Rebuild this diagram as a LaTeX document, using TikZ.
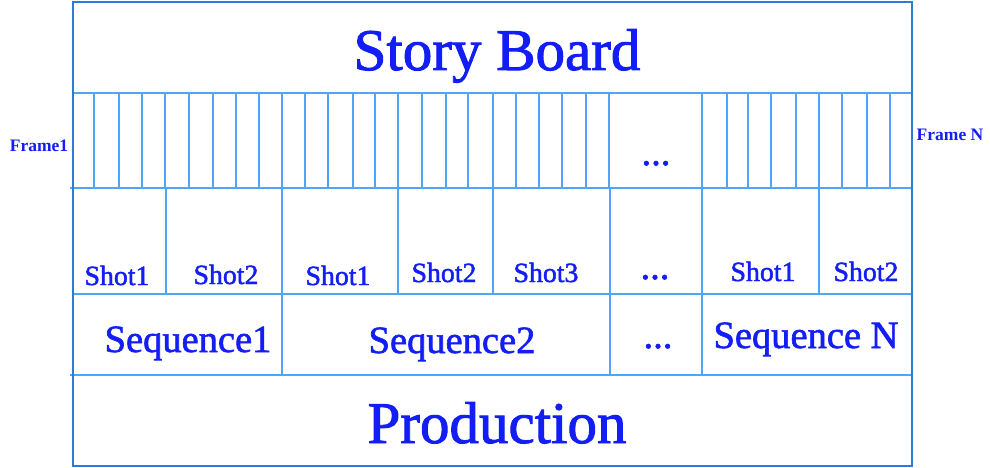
\documentclass[tikz,border=0pt]{standalone}
\usepackage{fontspec}
\setmainfont{Liberation Serif}
\newfontfamily\heavyfont[FakeBold=1.6]{Liberation Serif}
\definecolor{txtblue}{RGB}{18,30,245}
\definecolor{linblue}{RGB}{80,165,250}
\definecolor{brdblue}{RGB}{40,125,215}
\tikzset{
  grid/.style={draw=linblue,line width=1.8pt},
  border/.style={draw=brdblue,line width=2.4pt},
  lbl/.style={text=txtblue,inner sep=0pt,anchor=base},
  big/.style={lbl,font=\heavyfont\fontsize{59}{60}\selectfont},
  mid/.style={lbl,font=\heavyfont\fontsize{38.5}{40}\selectfont},
  small/.style={lbl,font=\heavyfont\fontsize{27.8}{30}\selectfont},
  tiny/.style={lbl,font=\bfseries\fontsize{17.5}{19}\selectfont},
}
\begin{document}
\begin{tikzpicture}[x=1pt,y=-1pt]
\useasboundingbox (0,0) rectangle (990,468);
% horizontal dividers
\draw[grid] (73,93) -- (913,93);
\draw[grid] (70,188) -- (913,188);
\draw[grid] (73,294) -- (913,294);
\draw[grid] (70,375) -- (913,375);
% frame row verticals
\foreach \x in {94,119,142,165,189,213,236,259,282,305,328,353,375,398,422,446,468,493,516,539,562,586,609,702,727,748,771,796,819,842,867,890}
  \draw[grid] (\x,93) -- (\x,188);
% shot row verticals
\foreach \x in {166,282,398,493,610,702,819}
  \draw[grid] (\x,188) -- (\x,294);
% sequence row verticals
\foreach \x in {282,610,702}
  \draw[grid] (\x,294) -- (\x,375);
% outer border
\draw[border] (73,2) rectangle (912,466);
% texts
\node[big] (sb) at (497,70) {Story Board};
\node[big] (pr) at (497,443) {Production};
\node[tiny] (f1) at (39,151) {Frame1};
\node[tiny] (fn) at (950,140) {Frame N};
\node[mid] (fd) at (656,165) {...};
\node[small] (s11) at (117,285) {Shot1};
\node[small] (s12) at (226,284) {Shot2};
\node[small] (s21) at (338,285) {Shot1};
\node[small] (s22) at (444,282) {Shot2};
\node[small] (s23) at (546,282) {Shot3};
\node[mid] (sd) at (655,279) {...};
\node[small] (sn1) at (763,281) {Shot1};
\node[small] (sn2) at (866,281) {Shot2};
\node[mid] (q1) at (188,352) {Sequence1};
\node[mid] (q2) at (452,353) {Sequence2};
\node[mid] (qd) at (658,348) {...};
\node[mid] (qn) at (806,348) {Sequence N};
\end{tikzpicture}
\end{document}
